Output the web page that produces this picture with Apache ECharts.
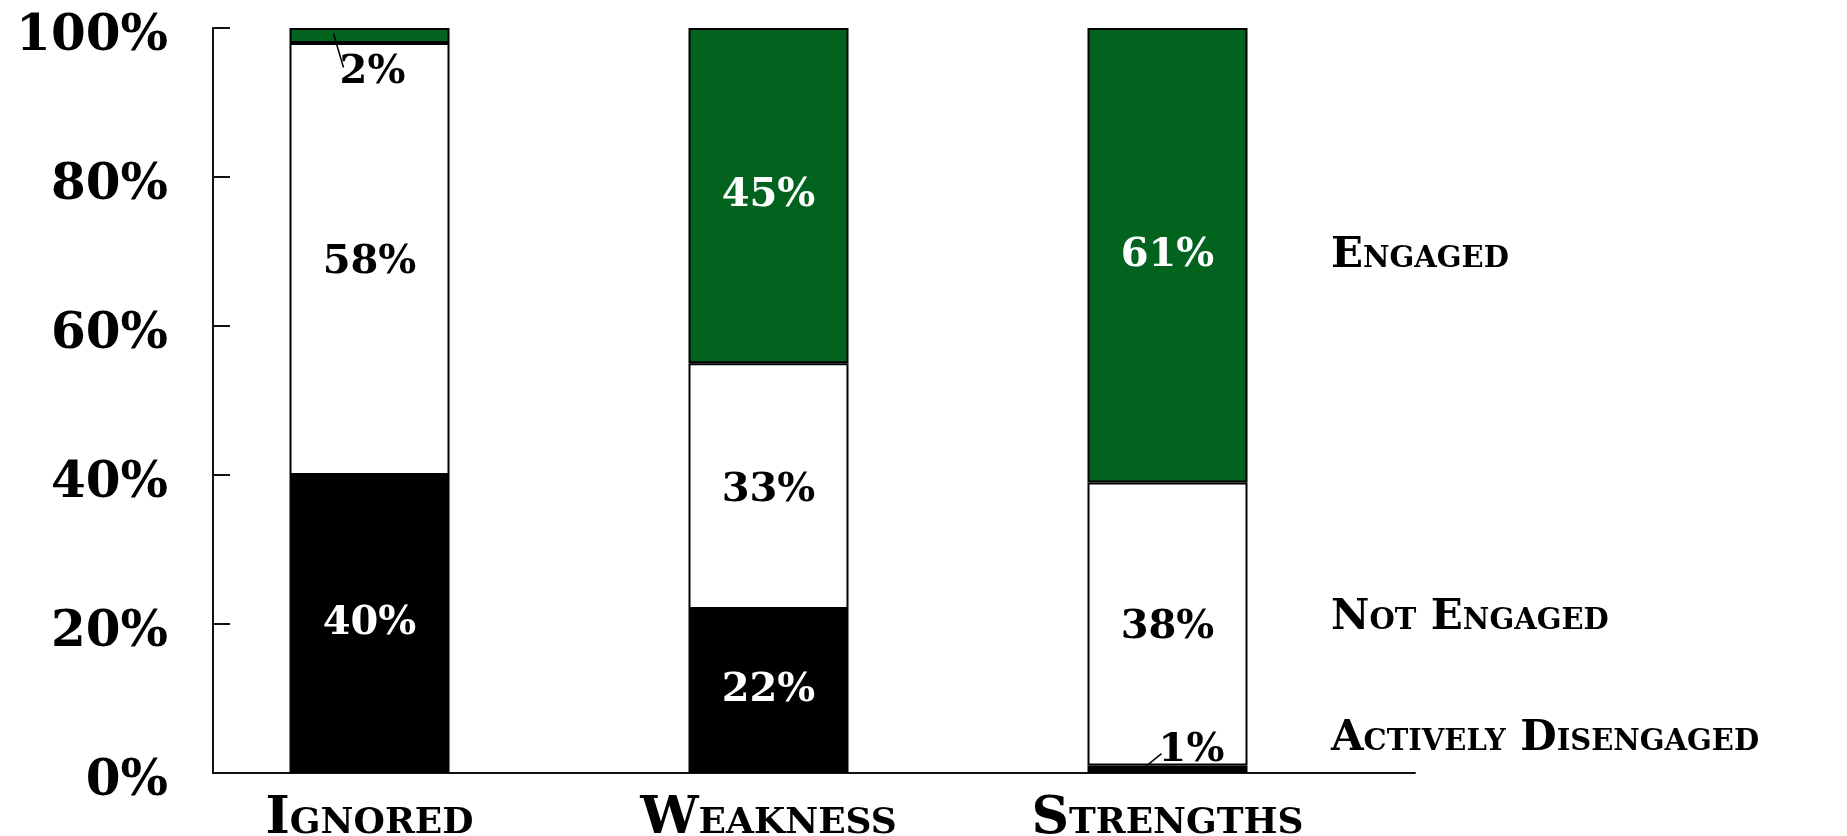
<!DOCTYPE html>
<html>
<head>
<meta charset="utf-8">
<script src="https://cdn.jsdelivr.net/npm/echarts@6/dist/echarts.min.js"></script>
<style>
  html, body { margin: 0; padding: 0; background: #fff; }
  #chart { width: 1847px; height: 836px; }
</style>
</head>
<body>
<div id="chart"></div>
<script>
// Engagement by focus of manager feedback (percent of employees)
const categories = ['Ignored', 'Weakness', 'Strengths'];
const activelyDisengaged = [40, 22, 1];
const notEngaged = [58, 33, 38];
const engaged = [2, 45, 61];
const yTicks = [0, 20, 40, 60, 80, 100];
const seriesNames = ['Engaged', 'Not Engaged', 'Actively Disengaged'];

const FONT = 'DejaVu Serif';
const CAPS = 'small-caps';
const GREEN = '#02631f';

const chart = echarts.init(document.getElementById('chart'), null, { renderer: 'canvas' });

const valueLabel = (color) => ({
  show: true,
  position: 'inside',
  offset: [0, 4],
  formatter: '{c}%',
  color: color,
  fontFamily: FONT,
  fontWeight: 'bold',
  fontSize: 40
});

const barStyle = (color) => ({ color: color, borderColor: '#000', borderWidth: 2 });
const sideLabel = (text, y) => ({
  type: 'text', x: 1331, y: y, z: 100,
  style: { text: text, fill: '#000', font: CAPS + ' bold 42px ' + FONT, verticalAlign: 'middle' }
});

chart.setOption({
  animation: false,
  backgroundColor: '#fff',
  grid: [
    { left: 170, right: 480, top: 28, bottom: 63, outerBoundsMode: 'none' },
    { left: 213, right: 432, top: 28, bottom: 63, outerBoundsMode: 'none' }
  ],
  xAxis: [
    {
      type: 'category', gridIndex: 0, data: categories,
      axisLine: { show: false }, axisTick: { show: false },
      axisLabel: {
        margin: 20, color: '#000', fontFamily: FONT, fontWeight: 'bold',
        fontStyle: CAPS, fontSize: 52
      }
    },
    {
      type: 'value', gridIndex: 1, min: 0, max: 1,
      axisLine: { show: true, lineStyle: { color: '#111', width: 2 } },
      axisTick: { show: false }, axisLabel: { show: false }, splitLine: { show: false }
    }
  ],
  yAxis: [
    { type: 'value', gridIndex: 0, min: 0, max: 100, show: false },
    {
      type: 'value', gridIndex: 1, min: yTicks[0], max: yTicks[yTicks.length - 1], interval: 20,
      axisLine: { show: true, lineStyle: { color: '#111', width: 2 } },
      axisTick: { show: true, inside: true, length: 17, lineStyle: { color: '#111', width: 2 } },
      splitLine: { show: false },
      axisLabel: {
        margin: 45, color: '#000', fontFamily: FONT, fontWeight: 'bold', fontSize: 50,
        formatter: '{value}%', verticalAlign: 'top', lineHeight: 18
      }
    }
  ],
  series: [
    {
      name: seriesNames[2], type: 'bar', stack: 'total', xAxisIndex: 0, yAxisIndex: 0,
      barWidth: 160,
      itemStyle: barStyle('#000'),
      label: valueLabel('#fff'),
      labelLayout: (p) => p.dataIndex === 2 ? { dx: 24, dy: -19 } : {},
      data: activelyDisengaged.map((v, i) => i === 2 ? { value: v, label: { color: '#000' } } : v)
    },
    {
      name: seriesNames[1], type: 'bar', stack: 'total', xAxisIndex: 0, yAxisIndex: 0,
      barWidth: 160,
      itemStyle: barStyle('#fff'),
      label: valueLabel('#000'),
      data: notEngaged
    },
    {
      name: seriesNames[0], type: 'bar', stack: 'total', xAxisIndex: 0, yAxisIndex: 0,
      barWidth: 160,
      itemStyle: barStyle(GREEN),
      label: valueLabel('#fff'),
      labelLayout: (p) => p.dataIndex === 0 ? { dx: 3, dy: 37 } : {},
      data: engaged.map((v, i) => i === 0 ? { value: v, label: { color: '#000' } } : v)
    }
  ]
});

// Side captions plus leader lines from the two thin segments to their moved value labels
const segmentTop = (i) => activelyDisengaged[i] + notEngaged[i] + engaged[i];
const pTop = chart.convertToPixel({ xAxisIndex: 0, yAxisIndex: 0 }, [0, segmentTop(0) - engaged[0] / 2]);
const pLow = chart.convertToPixel({ xAxisIndex: 0, yAxisIndex: 0 }, [2, activelyDisengaged[2]]);
chart.setOption({
  graphic: [
    sideLabel(seriesNames[0], 256),
    sideLabel(seriesNames[1], 618),
    sideLabel(seriesNames[2], 739),
    {
      type: 'line', silent: true, z: 100,
      shape: { x1: pTop[0] - 36, y1: pTop[1] - 2, x2: pTop[0] - 26, y2: pTop[1] + 32 },
      style: { stroke: '#000', lineWidth: 1.5 }
    },
    {
      type: 'line', silent: true, z: 100,
      shape: { x1: pLow[0] - 22, y1: pLow[1] + 1, x2: pLow[0] - 6, y2: pLow[1] - 12 },
      style: { stroke: '#000', lineWidth: 1.5 }
    }
  ]
});
</script>
</body>
</html>
